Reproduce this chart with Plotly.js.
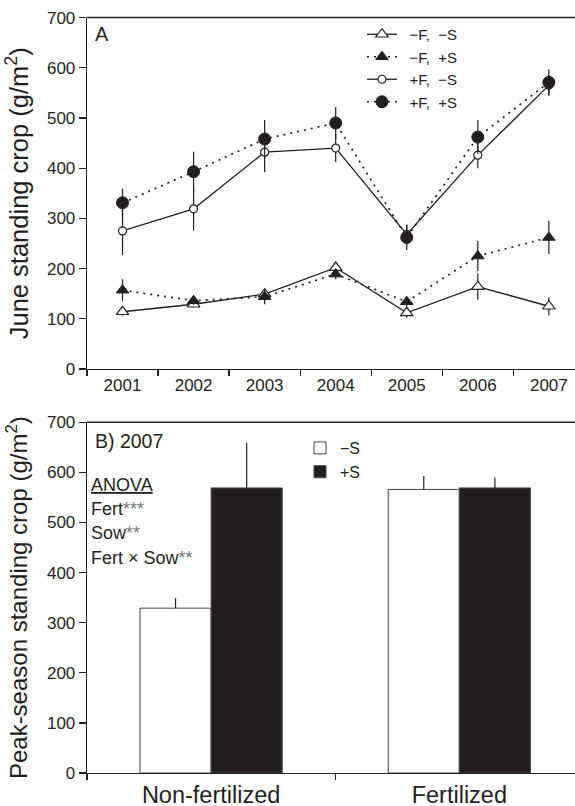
<!DOCTYPE html>
<html>
<head>
<meta charset="utf-8">
<script src="https://cdn.plot.ly/plotly-3.0.1.min.js"></script>
<style>
  html, body { margin: 0; padding: 0; background: #fff; }
  #chart { width: 575px; height: 806px; }
</style>
</head>
<body>
<div id="chart"></div>
<script>
// ---------- Panel A: June standing crop ----------
const years = ['2001', '2002', '2003', '2004', '2005', '2006', '2007'];

const negF_negS = [114, 129, 149, 202, 112, 164, 125];
const negF_negS_err = [8, 6, 8, 10, 10, 26, 18];

const negF_posS = [157, 136, 144, 189, 134, 225, 262];
const negF_posS_err = [22, 8, 15, 10, 10, 30, 33];

const posF_negS = [275, 319, 432, 440, 268, 426, 565];
const posF_negS_err = [48, 43, 40, 28, 20, 26, 20];

const posF_posS = [331, 393, 458, 490, 262, 462, 571];
const posF_posS_err = [28, 40, 38, 32, 25, 34, 26];

const seriesNamesA = ['\u2002\u2212F,\u00a0 \u2212S', '\u2002\u2212F,\u00a0 +S', '\u2002+F,\u00a0 \u2212S', '\u2002+F,\u00a0 +S'];

// ---------- Panel B: Peak-season standing crop 2007 ----------
const treatments = ['Non-fertilized', 'Fertilized'];
const minusS = [329, 566];
const minusS_err = [20, 27];
const plusS = [569, 569];
const plusS_err = [90, 21];
const seriesNamesB = ['\u2212S', '+S'];

const INK = '#231f20';
const FONT = 'Liberation Sans, Arial, Helvetica, sans-serif';

function errY(arr) {
  return { type: 'data', array: arr, symmetric: true, color: INK, thickness: 1.2, width: 0 };
}

const dotDash = '2px,5px';

const traces = [
  {
    x: years, y: negF_negS, name: seriesNamesA[0], type: 'scatter', mode: 'lines+markers',
    xaxis: 'x', yaxis: 'y', legend: 'legend',
    line: { color: INK, width: 1.3 },
    marker: { symbol: 'triangle-up', size: 11, color: '#ffffff', line: { color: INK, width: 1.2 } },
    error_y: errY(negF_negS_err)
  },
  {
    x: years, y: negF_posS, name: seriesNamesA[1], type: 'scatter', mode: 'lines+markers',
    xaxis: 'x', yaxis: 'y', legend: 'legend',
    line: { color: INK, width: 1.7, dash: dotDash },
    marker: { symbol: 'triangle-up', size: 11, color: INK, line: { color: INK, width: 1 } },
    error_y: errY(negF_posS_err)
  },
  {
    x: years, y: posF_negS, name: seriesNamesA[2], type: 'scatter', mode: 'lines+markers',
    xaxis: 'x', yaxis: 'y', legend: 'legend',
    line: { color: INK, width: 1.3 },
    marker: { symbol: 'circle', size: 8, color: '#ffffff', line: { color: INK, width: 1.2 } },
    error_y: errY(posF_negS_err)
  },
  {
    x: years, y: posF_posS, name: seriesNamesA[3], type: 'scatter', mode: 'lines+markers',
    xaxis: 'x', yaxis: 'y', legend: 'legend',
    line: { color: INK, width: 1.7, dash: dotDash },
    marker: { symbol: 'circle', size: 12, color: INK, line: { color: INK, width: 1 } },
    error_y: errY(posF_posS_err)
  },
  {
    x: treatments, y: minusS, name: seriesNamesB[0], type: 'bar',
    xaxis: 'x2', yaxis: 'y2', legend: 'legend2',
    marker: { color: '#ffffff', line: { color: '#444', width: 1 } },
    error_y: { type: 'data', array: minusS_err, arrayminus: [0, 0], symmetric: false, color: INK, thickness: 1.2, width: 0 }
  },
  {
    x: treatments, y: plusS, name: seriesNamesB[1], type: 'bar',
    xaxis: 'x2', yaxis: 'y2', legend: 'legend2',
    marker: { color: INK, line: { color: '#444', width: 1 } },
    error_y: { type: 'data', array: plusS_err, arrayminus: [0, 0], symmetric: false, color: INK, thickness: 1.2, width: 0 }
  }
];

const H = 806;
const L = 87, PW = 575 - L;
const fy = px => 1 - px / H;
const fx = px => (px - L) / PW;

const axisCommon = {
  showgrid: false, zeroline: false, showline: true, linecolor: INK, linewidth: 1.3,
  ticks: 'outside', ticklen: 6, tickwidth: 1.3, tickcolor: INK,
  tickfont: { family: FONT, size: 17, color: INK }, automargin: false, fixedrange: true
};

const annFont = { family: FONT, size: 18, color: INK };
function ann(text, px, py, size) {
  return {
    text: text, xref: 'paper', yref: 'paper', x: fx(px), y: fy(py),
    xanchor: 'left', yanchor: 'middle', showarrow: false,
    font: Object.assign({}, annFont, size ? { size: size } : {})
  };
}

const layout = {
  width: 575, height: 806,
  margin: { l: L, r: 0, t: 0, b: 0 },
  paper_bgcolor: '#ffffff', plot_bgcolor: '#ffffff',
  font: { family: FONT, color: INK, size: 17 },
  barmode: 'group', bargap: 0.427, bargroupgap: 0,
  xaxis: Object.assign({}, axisCommon, {
    type: 'category', range: [-0.5, 6.368], tickson: 'boundaries', anchor: 'y',
    domain: [0, 1]
  }),
  yaxis: Object.assign({}, axisCommon, {
    range: [0, 700], dtick: 100, tick0: 0, anchor: 'x',
    domain: [fy(369), fy(17.6)], ticklen: 7,
    title: { text: 'June standing crop (g/m<sup>2</sup>)', font: { family: FONT, size: 25.5, color: INK }, standoff: 11 }
  }),
  xaxis2: Object.assign({}, axisCommon, {
    type: 'category', range: [-0.5, 1.466], tickson: 'boundaries', anchor: 'y2',
    domain: [0, 1], tickfont: { family: FONT, size: 23.5, color: INK }
  }),
  yaxis2: Object.assign({}, axisCommon, {
    range: [0, 700], dtick: 100, tick0: 0, anchor: 'x2',
    domain: [fy(773), fy(422.3)], ticklen: 7,
    title: { text: 'Peak-season standing crop (g/m<sup>2</sup>)', font: { family: FONT, size: 24, color: INK }, standoff: 12 }
  }),
  legend: {
    x: fx(362), y: fy(18), xanchor: 'left', yanchor: 'top',
    bgcolor: 'rgba(0,0,0,0)', borderwidth: 0,
    font: { family: FONT, size: 15, color: INK },
    tracegroupgap: 0, itemwidth: 30
  },
  legend2: {
    x: fx(300), y: fy(431), xanchor: 'left', yanchor: 'top',
    bgcolor: 'rgba(0,0,0,0)', borderwidth: 0,
    font: { family: FONT, size: 16, color: INK },
    tracegroupgap: 0
  },
  shapes: [
    { type: 'line', xref: 'x domain', yref: 'y domain', x0: 0, x1: 1, y0: 1, y1: 1, line: { color: INK, width: 1.5 } },
    { type: 'line', xref: 'x2 domain', yref: 'y2 domain', x0: 0, x1: 1, y0: 1, y1: 1, line: { color: INK, width: 1.5 } }
  ],
  annotations: [
    ann('A', 93, 34, 20),
    ann('B) 2007', 93, 441, 19.5),
    ann('<u>ANOVA</u>', 89, 485),
    ann('Fert<span style="color:#777">***</span>', 89, 509),
    ann('Sow<span style="color:#777">**</span>', 89, 533),
    ann('Fert \u00d7 Sow<span style="color:#777">**</span>', 89, 558)
  ],
  showlegend: true
};

Plotly.newPlot('chart', traces, layout, { displayModeBar: false, staticPlot: true });
</script>
</body>
</html>
